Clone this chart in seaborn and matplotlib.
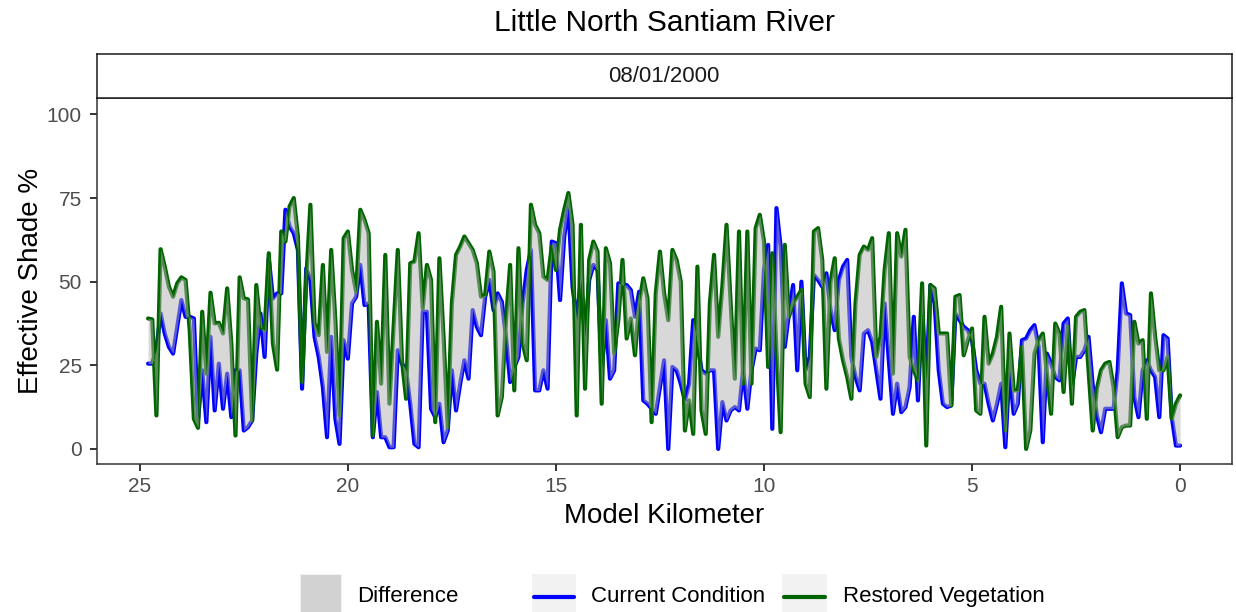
import numpy as np
import pandas as pd
import matplotlib
matplotlib.use("Agg")
import matplotlib.pyplot as plt
from matplotlib.patches import Rectangle
from matplotlib.lines import Line2D
import seaborn as sns

# --------------------------------------------------------------------------- #
# Data (0.1 km spacing from km 24.8 down to 0.0)
# --------------------------------------------------------------------------- #
TITLE = "Little North Santiam River"
DATE_LABEL = "08/01/2000"

model_km = [round(24.8 - 0.1 * i, 1) for i in range(249)]

current_shade = [
    25.5, 25.5, 30.0, 40.5, 34.5, 30.5, 28.5, 36.5, 44.5, 39.5,
    39.5, 39.0, 8.5, 23.5, 8.0, 33.5, 11.5, 25.5, 12.0, 22.5,
    9.5, 23.5, 23.5, 5.5, 6.5, 8.5, 28.5, 40.5, 27.5, 57.0,
    45.0, 46.5, 46.5, 71.5, 66.5, 64.5, 59.5, 18.0, 54.0, 50.5,
    33.5, 27.5, 18.5, 3.5, 33.5, 9.0, 1.5, 32.5, 27.0, 43.5,
    45.5, 55.0, 43.0, 43.5, 3.5, 17.0, 3.5, 3.5, 0.5, 0.5,
    29.5, 25.5, 23.5, 13.5, 1.5, 0.5, 41.0, 41.0, 12.0, 9.5,
    13.5, 2.0, 5.5, 23.5, 11.5, 19.5, 26.5, 21.0, 41.5, 36.5,
    34.0, 45.5, 50.5, 41.5, 46.5, 44.0, 33.5, 20.0, 24.5, 27.5,
    43.5, 53.5, 59.5, 17.5, 17.5, 23.5, 18.0, 62.0, 61.5, 44.5,
    63.5, 72.5, 48.5, 38.5, 50.5, 33.5, 50.5, 55.0, 53.5, 23.5,
    38.5, 21.0, 23.5, 49.5, 49.0, 49.0, 47.5, 39.5, 47.0, 14.5,
    13.5, 12.0, 10.5, 18.5, 26.5, 0.0, 24.5, 23.5, 19.5, 14.5,
    19.5, 38.5, 31.5, 23.5, 22.5, 23.5, 23.5, 0.0, 14.0, 8.5,
    11.5, 12.5, 11.5, 23.5, 12.0, 23.5, 30.0, 29.5, 53.5, 61.0,
    6.0, 72.0, 60.5, 30.5, 40.5, 49.0, 23.5, 50.0, 23.5, 27.5,
    52.0, 50.5, 48.5, 52.5, 41.5, 35.5, 50.5, 54.5, 56.5, 27.5,
    21.5, 17.5, 34.5, 35.5, 32.0, 23.5, 15.0, 43.5, 26.5, 10.5,
    19.5, 11.0, 12.5, 18.5, 39.5, 14.5, 41.5, 20.0, 49.0, 43.5,
    23.5, 13.5, 12.5, 13.0, 40.5, 38.5, 36.5, 35.5, 32.5, 23.5,
    19.5, 19.5, 13.5, 8.5, 13.5, 19.5, 0.5, 23.5, 10.5, 13.5,
    32.5, 33.0, 35.5, 37.0, 30.5, 2.0, 28.5, 25.5, 21.5, 20.5,
    37.5, 39.0, 18.5, 27.5, 27.5, 29.5, 33.5, 19.0, 10.0, 5.0,
    12.0, 12.0, 12.0, 23.5, 49.5, 40.5, 40.0, 15.5, 9.5, 23.5,
    26.5, 23.5, 21.5, 9.5, 34.0, 33.0, 9.5, 1.0, 1.0,
]

restored_shade = [
    39.0, 38.7, 10.0, 59.7, 54.5, 48.5, 45.5, 49.5, 51.3, 50.5,
    35.5, 9.0, 6.3, 41.0, 22.5, 46.7, 37.5, 37.7, 34.5, 48.0,
    31.5, 4.0, 51.3, 45.0, 44.7, 8.5, 49.0, 36.5, 35.5, 58.5,
    31.5, 23.7, 65.0, 62.0, 72.5, 75.0, 63.5, 20.0, 50.5, 73.0,
    37.5, 34.0, 55.0, 29.0, 59.5, 38.5, 10.0, 63.0, 65.0, 53.5,
    47.0, 71.5, 68.5, 64.5, 4.0, 38.0, 19.5, 58.0, 13.5, 36.5,
    59.5, 26.5, 15.0, 55.5, 56.0, 64.5, 42.0, 55.0, 50.5, 8.0,
    57.0, 33.5, 6.5, 43.5, 58.0, 60.5, 63.5, 61.5, 59.5, 55.5,
    45.5, 46.0, 59.0, 53.0, 10.0, 15.5, 38.5, 55.0, 17.5, 60.0,
    31.5, 26.5, 73.0, 67.0, 64.5, 51.5, 50.5, 60.5, 53.5, 65.5,
    71.5, 76.5, 67.0, 10.0, 67.0, 18.0, 56.5, 62.0, 59.0, 13.5,
    60.0, 55.5, 28.5, 38.5, 56.5, 33.0, 39.0, 28.0, 43.5, 51.0,
    45.0, 8.0, 46.5, 59.0, 46.5, 38.5, 59.5, 56.5, 50.0, 5.5,
    14.5, 4.5, 54.5, 11.5, 4.5, 43.5, 58.0, 33.5, 48.5, 67.0,
    43.5, 21.0, 65.0, 19.5, 65.0, 19.5, 66.0, 70.0, 62.0, 24.5,
    58.5, 29.5, 5.0, 61.0, 39.5, 43.5, 45.5, 47.5, 19.5, 15.5,
    65.0, 66.0, 56.5, 18.0, 50.0, 57.0, 33.0, 26.5, 21.5, 15.0,
    43.5, 58.0, 60.5, 59.5, 63.0, 27.5, 33.5, 53.5, 64.5, 22.5,
    64.5, 57.5, 65.5, 27.5, 23.5, 20.5, 49.5, 1.0, 49.0, 48.0,
    34.5, 34.5, 34.5, 13.0, 45.5, 46.0, 28.0, 32.5, 36.0, 11.5,
    10.5, 39.5, 25.5, 28.5, 33.5, 42.5, 5.5, 34.5, 17.5, 17.5,
    30.5, 0.0, 5.5, 28.5, 32.5, 34.5, 22.5, 10.5, 37.5, 34.5,
    17.0, 36.5, 13.5, 39.5, 41.0, 41.5, 23.5, 5.5, 18.0, 23.5,
    25.5, 26.0, 18.5, 3.5, 6.5, 7.0, 7.0, 38.0, 31.5, 32.5,
    9.0, 46.5, 33.5, 23.5, 23.5, 27.5, 9.0, 13.5, 16.0,
]

SERIES = ["Current Condition", "Restored Vegetation"]
COLORS = {"Current Condition": "#0000FF", "Restored Vegetation": "#006400"}
RIBBON = "#B3B3B3"
KEY_BG = "#F2F2F2"

# --------------------------------------------------------------------------- #
# Figure
# --------------------------------------------------------------------------- #
W, H = 1236, 612
sns.set_theme(style="white")
plt.rcParams["font.family"] = ["Liberation Sans", "DejaVu Sans"]


def fx(px):
    return px / W


def fy(py):
    return 1 - py / H


df = pd.DataFrame({
    "km": model_km * 2,
    "shade": current_shade + restored_shade,
    "series": [SERIES[0]] * len(model_km) + [SERIES[1]] * len(model_km),
})

fig = plt.figure(figsize=(W / 100, H / 100), dpi=100)
pl, pr, pt, pb = 96.5, 1231.7, 97.7, 464.3
ax = fig.add_axes([fx(pl), fy(pb), fx(pr - pl), (pb - pt) / H])

sns.lineplot(data=df, x="km", y="shade", hue="series", hue_order=SERIES,
             palette=COLORS, linewidth=3.0, legend=False, ax=ax,
             estimator=None, sort=False)
for ln in ax.lines:
    ln.set_solid_joinstyle("round")
ax.fill_between(model_km, current_shade, restored_shade, color=RIBBON,
                alpha=0.5, linewidth=0, zorder=5)

ax.set_xlim(26.04, -1.24)
ax.set_ylim(-4.6, 105.0)
ax.set_xticks([25, 20, 15, 10, 5, 0])
ax.set_yticks([0, 25, 50, 75, 100])
ax.set_xlabel("")
ax.set_ylabel("")
ax.tick_params(axis="both", which="major", length=5, width=1.4, color="#333333",
               labelsize=15, labelcolor="#4D4D4D", direction="out",
               bottom=True, left=True)
ax.tick_params(axis="x", pad=4)
ax.tick_params(axis="y", pad=5.5)
ax.grid(False)
for sp in ax.spines.values():
    sp.set_color("#333333")
    sp.set_linewidth(1.1)

# facet strip
strip = fig.add_axes([fx(pl), fy(pt), fx(pr - pl), (pt - 54.3) / H])
strip.set_xticks([])
strip.set_yticks([])
strip.set_facecolor("white")
for sp in strip.spines.values():
    sp.set_color("#1A1A1A")
    sp.set_linewidth(1.1)
strip.text(0.5, 0.5, DATE_LABEL, ha="center", va="center", fontsize=16,
           color="#1A1A1A", transform=strip.transAxes)

fig.text(fx((pl + pr) / 2), fy(23), TITLE, ha="center", va="center",
         fontsize=21.5, color="black")
fig.text(fx(31), fy((pt + pb) / 2), "Effective Shade %", ha="center",
         va="center", rotation=90, fontsize=20, color="black")
fig.text(fx((pl + pr) / 2), fy(516), "Model Kilometer", ha="center",
         va="center", fontsize=20, color="black")

# legend drawn as ggplot-style keys
key_top, key_h = 574, 60
keys = [
    ("Difference", 300, 342, 357.5),
    ("Current Condition", 532, 576, 591),
    ("Restored Vegetation", 782, 827, 842.5),
]
for label, x0, x1, tx in keys:
    fig.patches.append(Rectangle((fx(x0), fy(key_top + key_h)), fx(x1 - x0),
                                 key_h / H, transform=fig.transFigure,
                                 facecolor=KEY_BG, edgecolor="none"))
    if label == "Difference":
        fig.patches.append(Rectangle((fx(x0 + 1), fy(key_top + key_h)),
                                     fx(x1 - x0 - 2), (key_h - 1) / H,
                                     transform=fig.transFigure,
                                     facecolor=RIBBON, alpha=0.5,
                                     edgecolor="none"))
    else:
        fig.lines.append(Line2D([fx(x0 + 2), fx(x1 - 2)], [fy(596.5), fy(596.5)],
                                transform=fig.transFigure, color=COLORS[label],
                                linewidth=3.0))
    fig.text(fx(tx), fy(596.7), label, ha="left", va="center", fontsize=16,
             color="black")

fig.savefig("out.png", dpi=100)
plt.close(fig)
